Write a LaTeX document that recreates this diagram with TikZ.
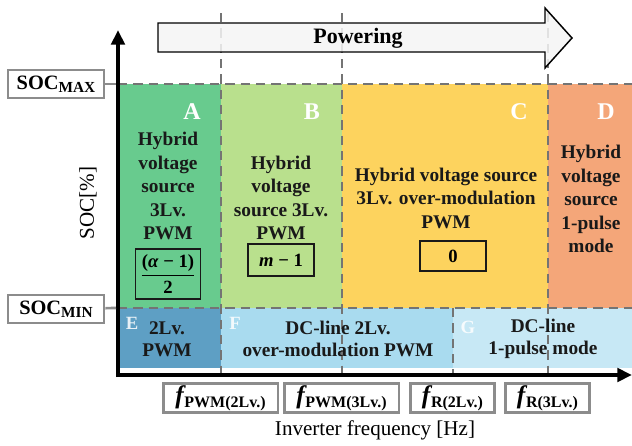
\documentclass[tikz,border=0pt]{standalone}
\usepackage{fontspec}
\usepackage{amsmath}
\setmainfont{Liberation Serif}
\usetikzlibrary{arrows.meta,positioning}
\definecolor{zoneA}{HTML}{68CB8E}
\definecolor{zoneB}{HTML}{B9E08D}
\definecolor{zoneC}{HTML}{FDD35E}
\definecolor{zoneD}{HTML}{F4A679}
\definecolor{zoneE}{HTML}{5E9FC4}
\definecolor{zoneF}{HTML}{A9DBEF}
\definecolor{zoneG}{HTML}{C7E8F5}
\definecolor{linegray}{HTML}{747474}
\definecolor{boxgray}{HTML}{8C8C8C}

\newcommand{\freqlabel}[1]{{\fontsize{19}{19}\selectfont\bfseries\itshape f}\kern0.5pt\raisebox{-3pt}{\fontsize{12}{12}\selectfont\bfseries #1}}
\newcommand{\soclabel}[1]{\textbf{SOC}\raisebox{-2.5pt}{\fontsize{11.5}{11.5}\selectfont\bfseries #1}}

\begin{document}
\begin{tikzpicture}[
        x=0.75pt, y=-0.75pt,
        zonetext/.style={
          align=center,
          font=\fontsize{14.5}{17.6}\selectfont\bfseries,
          text=black!90
        },
        lowtext/.style={
          align=center,
          font=\fontsize{14.5}{16.5}\selectfont\bfseries,
          text=black!90
        },
        zoneletter/.style={
          font=\fontsize{18}{18}\selectfont\bfseries,
          text=white
        },
        smallletter/.style={
          font=\fontsize{14}{14}\selectfont\bfseries,
          text=white,
          text opacity=0.85
        },
        mathbox/.style={
          draw=black!90,
          line width=1.1pt,
          inner sep=2pt,
          font=\fontsize{14}{16}\selectfont\bfseries
        },
        socbox/.style={
          draw=boxgray,
          line width=2pt,
          fill=white,
          minimum width=72pt,
          minimum height=21pt,
          inner sep=1pt,
          font=\fontsize{15.3}{16}\selectfont
        },
        freqbox/.style={
          draw=boxgray,
          line width=2pt,
          fill=white,
          minimum height=22pt,
          inner sep=1pt
        },
        dashline/.style={
          linegray,
          line width=2.2pt,
          dash pattern=on 7pt off 4.5pt
        },
        axis/.style={
          -{Triangle[length=11pt,width=10pt]},
          line width=3pt,
          black
        }
      ]

      \useasboundingbox (0,0) rectangle (632,446);

      % operating zones
      \fill[zoneA] (118,84) rectangle (221,308);
      \fill[zoneB] (221,84) rectangle (342,308);
      \fill[zoneC] (342,84) rectangle (548,308);
      \fill[zoneD] (548,84) rectangle (632,308);
      \fill[zoneE] (118,308) rectangle (221,368);
      \fill[zoneF] (221,308) rectangle (453,368);
      \fill[zoneG] (453,308) rectangle (632,368);

      % frequency limits and SOC limits
      \draw[dashline] (221,13) -- (221,373);
      \draw[dashline] (342,13) -- (342,373);
      \draw[dashline] (548,13) -- (548,373);
      \draw[dashline] (453,308) -- (453,373);
      \draw[dashline] (118,84) -- (632,84);
      \draw[dashline] (118,308) -- (632,308);

      % powering arrow
      \draw[line width=1.1pt, fill=gray!8, fill opacity=0.85]
        (158,23) -- (545,23) -- (545,8) -- (572,38) -- (545,68) -- (545,52) -- (158,52) -- cycle;
      \node[font=\fontsize{16.5}{18}\selectfont\bfseries] (powering) at (358,38) {Powering};

      % axes
      \draw[axis] (118,377) -- (118,30);
      \draw[axis] (116,375) -- (632,375);
      \coordinate (ymax) at (116,84);
      \coordinate (ymin) at (116,308);

      \node[rotate=90, font=\fontsize{15.8}{16}\selectfont] (soclab) at (88,203) {SOC[\%]};
      \node[font=\fontsize{15.8}{16}\selectfont] (freqlab) at (375,430) {Inverter frequency [Hz]};

      % SOC limits
      \node[socbox] (socmax) at (56,84) {\soclabel{MAX}};
      \node[socbox] (socmin) at (56,309) {\soclabel{MIN}};
      \draw[boxgray, line width=2pt] (socmax) -- (ymax);
      \draw[boxgray, line width=2pt] (socmin) -- (ymin);

      % frequency limits
      \node[freqbox, minimum width=86pt] (fpwmtwo) at (220.5,398) {\freqlabel{PWM(2Lv.)}};
      \node[freqbox, minimum width=86pt] (fpwmthree) at (341.5,398) {\freqlabel{PWM(3Lv.)}};
      \node[freqbox, minimum width=63pt] (frtwo) at (452.5,398) {\freqlabel{R(2Lv.)}};
      \node[freqbox, minimum width=63pt] (frthree) at (547.5,398) {\freqlabel{R(3Lv.)}};

      % zone letters
      \node[zoneletter] (letA) at (192,112) {A};
      \node[zoneletter] (letB) at (312,112) {B};
      \node[zoneletter] (letC) at (519,112) {C};
      \node[zoneletter] (letD) at (606,112) {D};
      \node[smallletter] (letE) at (132,323) {E};
      \node[smallletter] (letF) at (235,323) {F};
      \node[smallletter] (letG) at (468,327) {G};

      % zone texts
      \node[zonetext] (txtA) at (168,186) {Hybrid\\voltage\\source\\3Lv.\\PWM};
      \node[zonetext] (txtB) at (281,198) {Hybrid\\voltage\\source 3Lv.\\PWM};
      \node[zonetext] (txtC) at (446,198) {Hybrid voltage source\\3Lv. over-modulation\\PWM};
      \node[zonetext] (txtD) at (591,199) {Hybrid\\voltage\\source\\1-pulse\\mode};
      \node[lowtext] (txtE) at (167,339) {2Lv.\\PWM};
      \node[lowtext] (txtF) at (338,339) {DC-line 2Lv.\\over-modulation PWM};
      \node[lowtext] (txtG) at (543,339) {DC-line\\1-pulse mode};

      % offsets
      \node[mathbox, minimum width=49pt, minimum height=37.5pt] (offA) at (168,274)
        {$\dfrac{\textbf{(\textit{α} − 1)}}{\textbf{2}}$};
      \node[mathbox, minimum width=49.5pt, minimum height=24pt] (offB) at (281,260) {\textit{m} − 1};
      \node[mathbox, minimum width=49.5pt, minimum height=22.5pt] (offC) at (453,256) {0};

      \end{tikzpicture}
\end{document}
